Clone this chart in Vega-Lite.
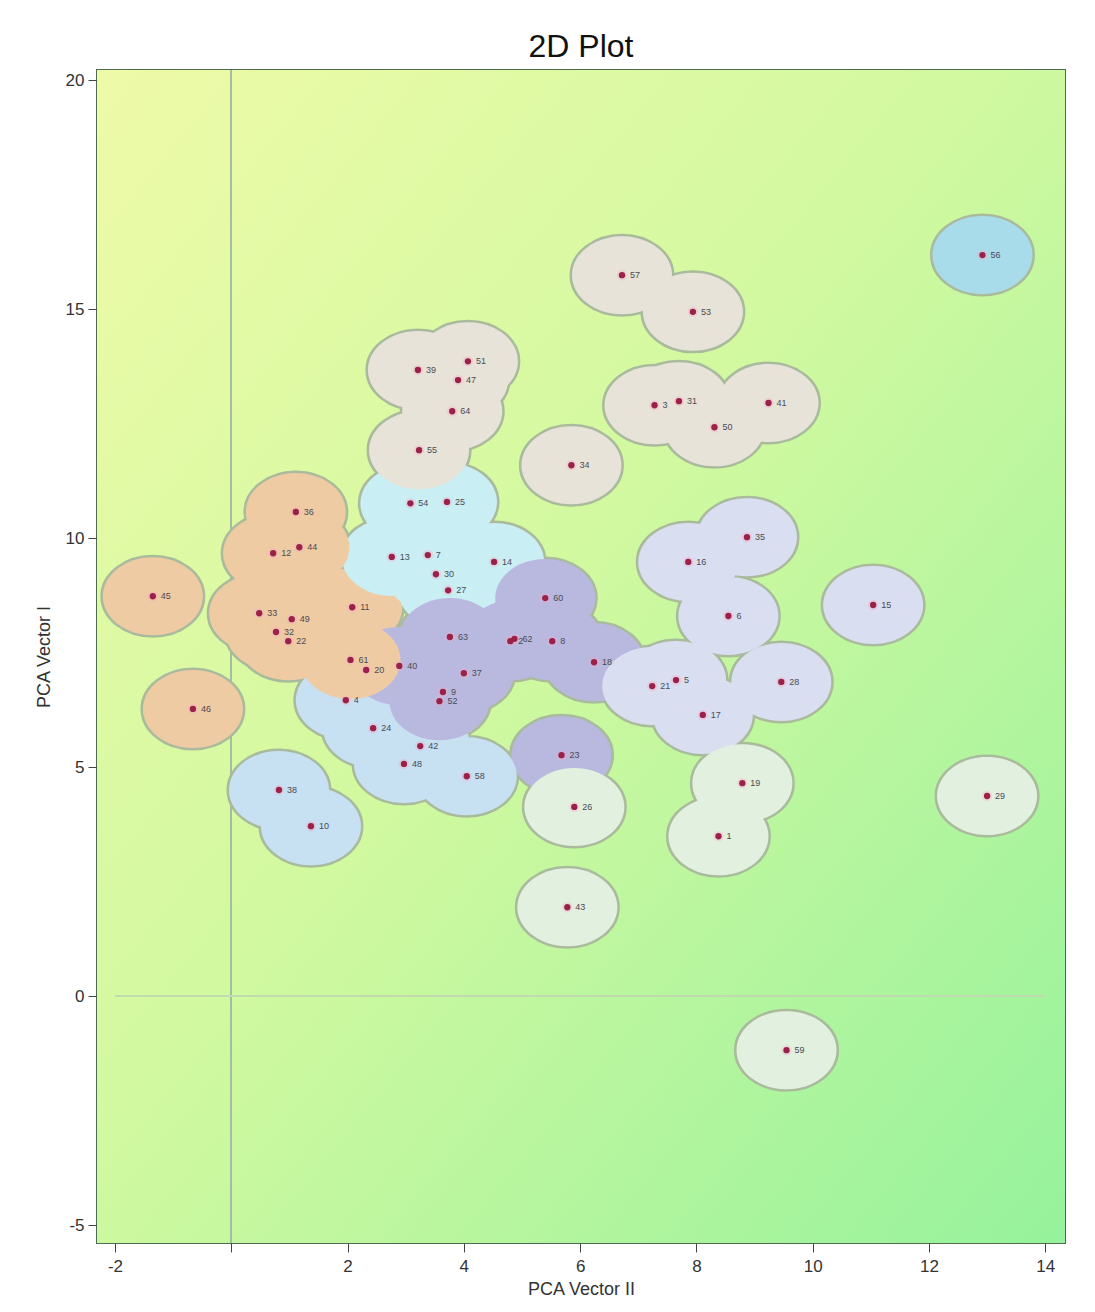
{
  "$schema": "https://vega.github.io/schema/vega-lite/v6.json",
  "width": 968,
  "height": 1173,
  "autosize": {"type": "none"},
  "padding": {"left": 97, "top": 70, "right": 30, "bottom": 69},
  "background": "#ffffff",
  "title": {"text": "2D Plot", "fontSize": 32, "fontWeight": "normal", "font": "Liberation Sans Narrow, Liberation Sans, Arial", "color": "#111111", "offset": 6, "anchor": "middle"},
  "config": {
    "view": {"stroke": "#4f6b4f", "strokeWidth": 2},
    "axis": {"labelFont": "Liberation Sans Narrow, Liberation Sans, Arial", "titleFont": "Liberation Sans Narrow, Liberation Sans, Arial", "labelFontSize": 17, "titleFontSize": 18, "titleFontWeight": "normal", "labelColor": "#333333", "titleColor": "#333333", "tickColor": "#444444", "tickSize": 9, "domain": false, "grid": false}
  },
  "data": {"values": [
    {"id": "1", "x": 8.38, "y": 3.49, "cluster": "G"},
    {"id": "2", "x": 4.80, "y": 7.75, "cluster": "D"},
    {"id": "3", "x": 7.28, "y": 12.90, "cluster": "C"},
    {"id": "4", "x": 1.97, "y": 6.46, "cluster": "E"},
    {"id": "5", "x": 7.65, "y": 6.90, "cluster": "F"},
    {"id": "6", "x": 8.55, "y": 8.30, "cluster": "F"},
    {"id": "7", "x": 3.38, "y": 9.63, "cluster": "B"},
    {"id": "8", "x": 5.52, "y": 7.75, "cluster": "D"},
    {"id": "9", "x": 3.64, "y": 6.64, "cluster": "D"},
    {"id": "10", "x": 1.37, "y": 3.71, "cluster": "E"},
    {"id": "11", "x": 2.08, "y": 8.49, "cluster": "A"},
    {"id": "12", "x": 0.72, "y": 9.67, "cluster": "A"},
    {"id": "13", "x": 2.76, "y": 9.59, "cluster": "B"},
    {"id": "14", "x": 4.52, "y": 9.48, "cluster": "B"},
    {"id": "15", "x": 11.04, "y": 8.54, "cluster": "F"},
    {"id": "16", "x": 7.86, "y": 9.48, "cluster": "F"},
    {"id": "17", "x": 8.11, "y": 6.14, "cluster": "F"},
    {"id": "18", "x": 6.24, "y": 7.29, "cluster": "D"},
    {"id": "19", "x": 8.79, "y": 4.65, "cluster": "G"},
    {"id": "20", "x": 2.32, "y": 7.12, "cluster": "E"},
    {"id": "21", "x": 7.24, "y": 6.77, "cluster": "F"},
    {"id": "22", "x": 0.98, "y": 7.75, "cluster": "A"},
    {"id": "23", "x": 5.68, "y": 5.26, "cluster": "D"},
    {"id": "24", "x": 2.44, "y": 5.85, "cluster": "E"},
    {"id": "25", "x": 3.71, "y": 10.79, "cluster": "B"},
    {"id": "26", "x": 5.90, "y": 4.13, "cluster": "G"},
    {"id": "27", "x": 3.73, "y": 8.86, "cluster": "B"},
    {"id": "28", "x": 9.46, "y": 6.86, "cluster": "F"},
    {"id": "29", "x": 13.00, "y": 4.37, "cluster": "G"},
    {"id": "30", "x": 3.52, "y": 9.21, "cluster": "B"},
    {"id": "31", "x": 7.70, "y": 12.99, "cluster": "C"},
    {"id": "32", "x": 0.77, "y": 7.95, "cluster": "A"},
    {"id": "33", "x": 0.48, "y": 8.36, "cluster": "A"},
    {"id": "34", "x": 5.85, "y": 11.59, "cluster": "C"},
    {"id": "35", "x": 8.87, "y": 10.02, "cluster": "F"},
    {"id": "36", "x": 1.11, "y": 10.57, "cluster": "A"},
    {"id": "37", "x": 4.00, "y": 7.05, "cluster": "D"},
    {"id": "38", "x": 0.82, "y": 4.50, "cluster": "E"},
    {"id": "39", "x": 3.21, "y": 13.67, "cluster": "C"},
    {"id": "40", "x": 2.89, "y": 7.21, "cluster": "D"},
    {"id": "41", "x": 9.24, "y": 12.95, "cluster": "C"},
    {"id": "42", "x": 3.25, "y": 5.46, "cluster": "E"},
    {"id": "43", "x": 5.78, "y": 1.94, "cluster": "G"},
    {"id": "44", "x": 1.17, "y": 9.80, "cluster": "A"},
    {"id": "45", "x": -1.35, "y": 8.73, "cluster": "A"},
    {"id": "46", "x": -0.66, "y": 6.27, "cluster": "A"},
    {"id": "47", "x": 3.90, "y": 13.45, "cluster": "C"},
    {"id": "48", "x": 2.97, "y": 5.07, "cluster": "E"},
    {"id": "49", "x": 1.04, "y": 8.23, "cluster": "A"},
    {"id": "50", "x": 8.31, "y": 12.42, "cluster": "C"},
    {"id": "51", "x": 4.07, "y": 13.86, "cluster": "C"},
    {"id": "52", "x": 3.58, "y": 6.44, "cluster": "D"},
    {"id": "53", "x": 7.94, "y": 14.94, "cluster": "C"},
    {"id": "54", "x": 3.08, "y": 10.76, "cluster": "B"},
    {"id": "55", "x": 3.23, "y": 11.92, "cluster": "C"},
    {"id": "56", "x": 12.92, "y": 16.18, "cluster": "H"},
    {"id": "57", "x": 6.72, "y": 15.74, "cluster": "C"},
    {"id": "58", "x": 4.05, "y": 4.80, "cluster": "E"},
    {"id": "59", "x": 9.55, "y": -1.18, "cluster": "G"},
    {"id": "60", "x": 5.40, "y": 8.69, "cluster": "D"},
    {"id": "61", "x": 2.05, "y": 7.34, "cluster": "A"},
    {"id": "62", "x": 4.87, "y": 7.80, "cluster": "D"},
    {"id": "63", "x": 3.76, "y": 7.84, "cluster": "D"},
    {"id": "64", "x": 3.80, "y": 12.77, "cluster": "C"}
  ]},
  "layer": [
    {
      "mark": {"type": "rect", "fill": {"gradient": "linear", "x1": 0, "y1": 0, "x2": 1, "y2": 1, "stops": [{"offset": 0, "color": "#eefaa8"}, {"offset": 0.45, "color": "#d2f9a0"}, {"offset": 1, "color": "#96f29c"}]}},
      "encoding": {
        "x": {"datum": -2.31, "type": "quantitative", "scale": {"domain": [-2.31, 14.34], "nice": false, "zero": false}, "axis": {"values": [-2, 0, 2, 4, 6, 8, 10, 12, 14], "labelExpr": "datum.value == 0 ? '' : '' + datum.value", "title": "PCA Vector II", "titlePadding": 6, "labelPadding": 6}},
        "x2": {"datum": 14.34},
        "y": {"datum": -5.39, "type": "quantitative", "scale": {"domain": [-5.39, 20.22], "nice": false, "zero": false}, "axis": {"values": [-5, 0, 5, 10, 15, 20], "labelExpr": "'' + datum.value", "title": "PCA Vector I", "titlePadding": 12, "labelPadding": 4}},
        "y2": {"datum": 20.22}
      }
    },
    {
      "mark": {"type": "rule", "color": "#a4bca0", "strokeWidth": 1},
      "encoding": {"x": {"datum": 0, "type": "quantitative"}}
    },
    {
      "mark": {"type": "rule", "color": "#c0dcb0", "strokeWidth": 1},
      "encoding": {"y": {"datum": 0, "type": "quantitative"}, "x": {"datum": -2, "type": "quantitative"}, "x2": {"datum": 14}}
    },
    {
      "mark": {"type": "point", "shape": "M -1 0 C -1 -0.431 -0.5523 -0.78 0 -0.78 C 0.5523 -0.78 1 -0.431 1 0 C 1 0.431 0.5523 0.78 0 0.78 C -0.5523 0.78 -1 0.431 -1 0 Z", "size": 10000, "filled": true, "opacity": 1, "fill": "#a9bb9c", "stroke": "#a9bb9c", "strokeWidth": 5},
      "encoding": {"x": {"field": "x", "type": "quantitative"}, "y": {"field": "y", "type": "quantitative"}}
    },
    {
      "mark": {"type": "point", "shape": "M -1 0 C -1 -0.431 -0.5523 -0.78 0 -0.78 C 0.5523 -0.78 1 -0.431 1 0 C 1 0.431 0.5523 0.78 0 0.78 C -0.5523 0.78 -1 0.431 -1 0 Z", "size": 10000, "filled": true, "opacity": 1, "strokeWidth": 0},
      "encoding": {
        "x": {"field": "x", "type": "quantitative"},
        "y": {"field": "y", "type": "quantitative"},
        "color": {"field": "cluster", "type": "nominal", "legend": null, "scale": {"domain": ["A", "B", "C", "D", "E", "F", "G", "H"], "range": ["#efcba4", "#c9eef3", "#e8e3d8", "#b9b9df", "#c7e0f2", "#d9def0", "#e2f1df", "#a9dcea"]}}
      }
    },
    {
      "mark": {"type": "point", "shape": "circle", "size": 110, "filled": true, "opacity": 0.35, "color": "#f4a8c8"},
      "encoding": {"x": {"field": "x", "type": "quantitative"}, "y": {"field": "y", "type": "quantitative"}}
    },
    {
      "mark": {"type": "point", "shape": "circle", "size": 40, "filled": true, "opacity": 1, "color": "#9a2248"},
      "encoding": {"x": {"field": "x", "type": "quantitative"}, "y": {"field": "y", "type": "quantitative"}}
    },
    {
      "mark": {"type": "text", "align": "left", "baseline": "middle", "dx": 8, "fontSize": 9, "font": "Liberation Sans", "color": "#4a4a55"},
      "encoding": {"x": {"field": "x", "type": "quantitative"}, "y": {"field": "y", "type": "quantitative"}, "text": {"field": "id"}}
    }
  ]
}
